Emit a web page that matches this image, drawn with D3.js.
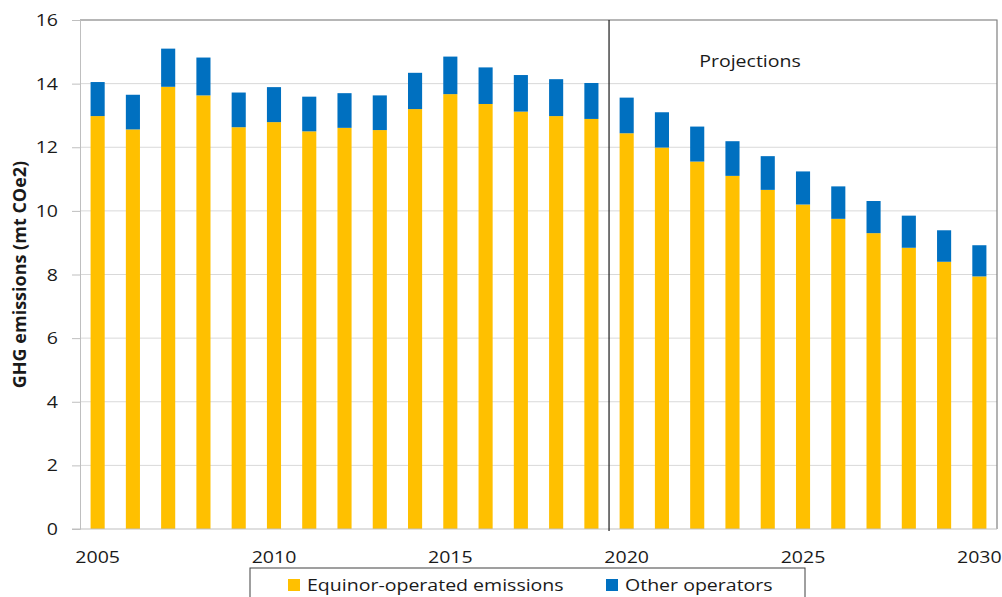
<!DOCTYPE html>
<html>
<head>
<meta charset="utf-8">
<script src="https://cdn.jsdelivr.net/npm/d3@7"></script>
<style>
  body { margin: 0; background: #fff; }
  svg { font-family: "Open Sans", "Noto Sans", sans-serif; }
</style>
</head>
<body>
<svg width="1002" height="597"></svg>
<script>
// years on the x axis
var years = d3.range(2005, 2031);
// Equinor-operated emissions (mt CO2e)
var equinor = [12.98, 12.56, 13.9, 13.63, 12.63, 12.79, 12.5, 12.61, 12.54, 13.2, 13.67, 13.36, 13.12,
               12.98, 12.89, 12.44, 11.99, 11.55, 11.1, 10.66, 10.2, 9.75, 9.3, 8.84, 8.4, 7.94];
// other operators (mt CO2e)
var other = [1.07, 1.09, 1.2, 1.19, 1.09, 1.1, 1.09, 1.09, 1.09, 1.14, 1.18, 1.15, 1.15,
             1.16, 1.13, 1.12, 1.11, 1.1, 1.09, 1.06, 1.04, 1.02, 1.01, 1.01, 0.99, 0.98];
var yTicks = [0, 2, 4, 6, 8, 10, 12, 14, 16];
var xLabels = [2005, 2010, 2015, 2020, 2025, 2030];
var seriesNames = ["Equinor-operated emissions", "Other operators"];
var colors = ["#FFC000", "#0070C0"];

var svg = d3.select("svg");
var mLeft = 80, mRight = 997, mTop = 20, mBottom = 529;
var stretch = 1.15; // text in the picture is a bit wider than tall

var x = d3.scaleBand()
    .domain(years)
    .range([mLeft, mRight])
    .paddingInner(0.6)
    .paddingOuter(0.3);

var y = d3.scaleLinear()
    .domain([0, 16])
    .range([mBottom, mTop]);

// helper: put a stretched text at a point
function label(g, px, py, anchor, size) {
    return g.append("text")
        .attr("transform", "translate(" + px + "," + py + ") scale(" + stretch + ",1)")
        .attr("text-anchor", anchor)
        .attr("font-size", size + "px")
        .attr("fill", "#1a1a1a");
}

// gridlines
svg.append("g")
    .selectAll("line")
    .data(yTicks.filter(function(d) { return d > 0; }))
    .enter().append("line")
    .attr("x1", mLeft).attr("x2", mRight)
    .attr("y1", function(d) { return y(d); })
    .attr("y2", function(d) { return y(d); })
    .attr("stroke", "#d9d9d9")
    .attr("stroke-width", 1);

// plot border (top / right)
svg.append("path")
    .attr("d", "M" + mLeft + "," + mTop + "H" + mRight + "V" + mBottom)
    .attr("fill", "none")
    .attr("stroke", "#808080")
    .attr("stroke-width", 1.2);

// stacked bars
var rows = years.map(function(yr, i) { return { year: yr, equinor: equinor[i], other: other[i] }; });
var stack = d3.stack().keys(["equinor", "other"])(rows);

svg.append("g")
    .selectAll("g")
    .data(stack)
    .enter().append("g")
    .attr("fill", function(d, i) { return colors[i]; })
    .selectAll("rect")
    .data(function(d) { return d; })
    .enter().append("rect")
    .attr("x", function(d) { return x(d.data.year); })
    .attr("width", x.bandwidth())
    .attr("y", function(d) { return y(d[1]); })
    .attr("height", function(d) { return y(d[0]) - y(d[1]); });

// y axis
var yAxis = svg.append("g")
    .attr("transform", "translate(" + mLeft + ",0)")
    .call(d3.axisLeft(y).tickValues(yTicks).tickSize(8).tickFormat(""));
yAxis.select(".domain").attr("stroke", "#bfbfbf");
yAxis.selectAll(".tick line").attr("stroke", "#bfbfbf");

var yLab = svg.append("g");
yTicks.forEach(function(t) {
    label(yLab, 58, y(t) + 6, "end", 17).text(t);
});

// x axis baseline
svg.append("line")
    .attr("x1", mLeft - 8).attr("x2", mRight)
    .attr("y1", mBottom).attr("y2", mBottom)
    .attr("stroke", "#bfbfbf");

// x labels
var xLab = svg.append("g");
xLabels.forEach(function(d) {
    label(xLab, x(d) + x.bandwidth() / 2, 563, "middle", 17).text(d);
});

// divider between history and projections
var divX = (x(2019) + x.bandwidth() + x(2020)) / 2;
svg.append("line")
    .attr("x1", divX).attr("x2", divX)
    .attr("y1", mTop).attr("y2", mBottom + 2)
    .attr("stroke", "#1a1a1a")
    .attr("stroke-width", 1.2);

label(svg, 750, 67, "middle", 17).text("Projections");

// y axis title
svg.append("text")
    .attr("transform", "translate(26," + ((mTop + mBottom) / 2) + ") rotate(-90)")
    .attr("text-anchor", "middle")
    .attr("font-size", "18px")
    .attr("font-weight", "bold")
    .attr("fill", "#1a1a1a")
    .text("GHG emissions (mt COe2)");

// legend
var legend = svg.append("g");
legend.append("rect")
    .attr("x", 250).attr("y", 568)
    .attr("width", 555).attr("height", 40)
    .attr("fill", "#fff")
    .attr("stroke", "#404040")
    .attr("stroke-width", 1);

var legendX = [288, 606];
seriesNames.forEach(function(name, i) {
    legend.append("rect")
        .attr("x", legendX[i]).attr("y", 579)
        .attr("width", 12).attr("height", 12)
        .attr("fill", colors[i]);
    label(legend, legendX[i] + 19, 591, "start", 17).text(name);
});
</script>
</body>
</html>
